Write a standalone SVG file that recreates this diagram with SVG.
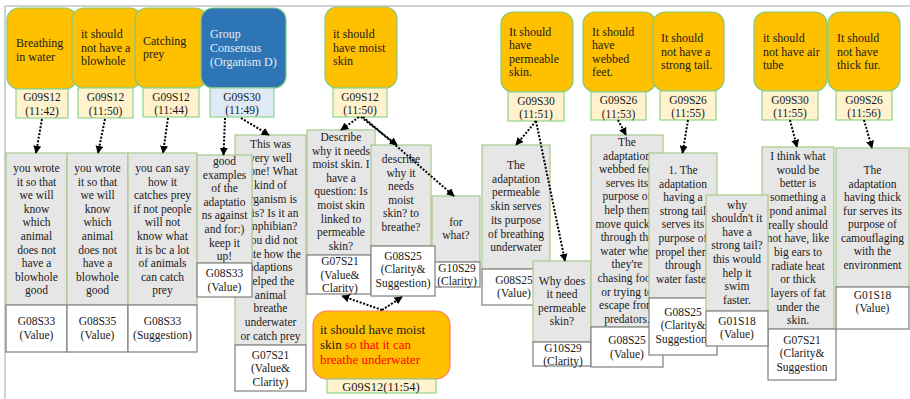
<svg xmlns="http://www.w3.org/2000/svg" width="910" height="399" viewBox="0 0 910 399">
<defs>
<marker id="ah" viewBox="0 0 10 10" refX="9" refY="5" markerWidth="4" markerHeight="4" orient="auto" markerUnits="strokeWidth">
<path d="M0,0 L10,5 L0,10 z" fill="#000"/>
</marker>
<style>
text{font-family:"Liberation Serif","Times New Roman",serif;fill:#1a1a1a;}
.t{font-size:12px;}
.c{font-size:11.5px;text-anchor:middle;}
.lb{font-size:11.5px;text-anchor:middle;}
.idea{fill:#FFC000;stroke:#7ECB7E;stroke-width:1.2;}
.cons{fill:#2E75B6;stroke:#7ECB7E;stroke-width:1.2;}
.lab{fill:#FFF2CC;stroke:#8FD48F;stroke-width:1.2;}
.labb{fill:#DEEBF7;stroke:#8FD48F;stroke-width:1.2;}
.cm{fill:#E7E6E6;stroke:#A9C98E;stroke-width:1.2;}
.cl{fill:#FFFFFF;stroke:#7F7F7F;stroke-width:1.2;}
.ar{stroke:#000;stroke-width:2;stroke-dasharray:2 1.6;fill:none;marker-end:url(#ah);}
</style>
</defs>
<rect width="910" height="399" fill="#FFFFFF"/>
<path d="M5,399 V6 H910" fill="none" stroke="#C4C4C4" stroke-width="1.5"/>

<!-- top idea nodes -->
<g id="n1">
<rect class="idea" x="7" y="8" width="70" height="81" rx="12"/>
<text class="t" x="16"><tspan x="16" y="47">Breathing</tspan><tspan x="16" y="60.5">in water</tspan></text>
<rect class="lab" x="16" y="89" width="52" height="29"/>
<text class="lb"><tspan x="42" y="101">G09S12</tspan><tspan x="42" y="114.5">(11:42)</tspan></text>
</g>
<g id="n2">
<rect class="idea" x="72" y="8" width="70" height="80" rx="12"/>
<text class="t"><tspan x="81" y="38">it should</tspan><tspan x="81" y="51.5">not have a</tspan><tspan x="81" y="65">blowhole</tspan></text>
<rect class="lab" x="78" y="88" width="55" height="30"/>
<text class="lb"><tspan x="105.5" y="101">G09S12</tspan><tspan x="105.5" y="114.5">(11:50)</tspan></text>
</g>
<g id="n3">
<rect class="idea" x="135" y="8" width="72" height="80" rx="12"/>
<text class="t"><tspan x="143" y="44.5">Catching</tspan><tspan x="143" y="58">prey</tspan></text>
<rect class="lab" x="143" y="88" width="56" height="29"/>
<text class="lb"><tspan x="171" y="100.5">G09S12</tspan><tspan x="171" y="114">(11:44)</tspan></text>
</g>
<g id="n4">
<rect class="cons" x="201" y="8" width="85" height="80" rx="12"/>
<text class="t" style="fill:#E3EAF4"><tspan x="210" y="38">Group</tspan><tspan x="210" y="52">Consensus</tspan><tspan x="210" y="65.5">(Organism D)</tspan></text>
<rect class="labb" x="210" y="88" width="64" height="29"/>
<text class="lb"><tspan x="242" y="100.5">G09S30</tspan><tspan x="242" y="114">(11:49)</tspan></text>
</g>
<g id="n5">
<rect class="idea" x="325" y="7" width="72" height="81" rx="12"/>
<text class="t"><tspan x="333" y="38">it should</tspan><tspan x="333" y="51.5">have moist</tspan><tspan x="333" y="65">skin</tspan></text>
<rect class="lab" x="333" y="88" width="54" height="29"/>
<text class="lb"><tspan x="360" y="100.5">G09S12</tspan><tspan x="360" y="114">(11:50)</tspan></text>
</g>
<g id="n6">
<rect class="idea" x="501" y="12" width="72" height="80" rx="12"/>
<text class="t"><tspan x="509" y="35.5">It should</tspan><tspan x="509" y="49">have</tspan><tspan x="509" y="62.5">permeable</tspan><tspan x="509" y="76">skin.</tspan></text>
<rect class="lab" x="508" y="92" width="56" height="29"/>
<text class="lb"><tspan x="536" y="104.5">G09S30</tspan><tspan x="536" y="118">(11:51)</tspan></text>
</g>
<g id="n7">
<rect class="idea" x="583" y="12" width="73" height="80" rx="12"/>
<text class="t"><tspan x="592" y="35.5">It should</tspan><tspan x="592" y="49">have</tspan><tspan x="592" y="62.5">webbed</tspan><tspan x="592" y="76">feet.</tspan></text>
<rect class="lab" x="591" y="92" width="55" height="28"/>
<text class="lb"><tspan x="618.5" y="104">G09S26</tspan><tspan x="618.5" y="117.5">(11:53)</tspan></text>
</g>
<g id="n8">
<rect class="idea" x="653" y="12" width="71" height="79" rx="12"/>
<text class="t"><tspan x="661" y="42">It should</tspan><tspan x="661" y="55.5">not have a</tspan><tspan x="661" y="69">strong tail.</tspan></text>
<rect class="lab" x="660" y="91" width="56" height="29"/>
<text class="lb"><tspan x="688" y="103.5">G09S26</tspan><tspan x="688" y="117">(11:55)</tspan></text>
</g>
<g id="n9">
<rect class="idea" x="754" y="12" width="73" height="79" rx="12"/>
<text class="t"><tspan x="763" y="42">it should</tspan><tspan x="763" y="55.5">not have air</tspan><tspan x="763" y="69">tube</tspan></text>
<rect class="lab" x="762" y="91" width="56" height="29"/>
<text class="lb"><tspan x="790" y="103.5">G09S30</tspan><tspan x="790" y="117">(11:55)</tspan></text>
</g>
<g id="n10">
<rect class="idea" x="828" y="12" width="72" height="79" rx="12"/>
<text class="t"><tspan x="837" y="42">It should</tspan><tspan x="837" y="55.5">not have</tspan><tspan x="837" y="69">thick fur.</tspan></text>
<rect class="lab" x="836" y="91" width="56" height="29"/>
<text class="lb"><tspan x="864" y="103.5">G09S26</tspan><tspan x="864" y="117">(11:56)</tspan></text>
</g>

<!-- comments -->
<g id="c1">
<rect class="cm" x="6" y="153" width="61" height="152"/>
<text class="c"><tspan x="36.5" y="172">you wrote</tspan><tspan x="36.5" y="185.6">it so that</tspan><tspan x="36.5" y="199.2">we will</tspan><tspan x="36.5" y="212.8">know</tspan><tspan x="36.5" y="226.4">which</tspan><tspan x="36.5" y="240">animal</tspan><tspan x="36.5" y="253.6">does not</tspan><tspan x="36.5" y="267.2">have a</tspan><tspan x="36.5" y="280.8">blowhole</tspan><tspan x="36.5" y="294.4">good</tspan></text>
<rect class="cl" x="6" y="305" width="61" height="47"/>
<text class="c"><tspan x="36.5" y="325">G08S33</tspan><tspan x="36.5" y="338.5">(Value)</tspan></text>
</g>
<g id="c2">
<rect class="cm" x="67" y="153" width="61" height="152"/>
<text class="c"><tspan x="97.5" y="172">you wrote</tspan><tspan x="97.5" y="185.6">it so that</tspan><tspan x="97.5" y="199.2">we will</tspan><tspan x="97.5" y="212.8">know</tspan><tspan x="97.5" y="226.4">which</tspan><tspan x="97.5" y="240">animal</tspan><tspan x="97.5" y="253.6">does not</tspan><tspan x="97.5" y="267.2">have a</tspan><tspan x="97.5" y="280.8">blowhole</tspan><tspan x="97.5" y="294.4">good</tspan></text>
<rect class="cl" x="67" y="305" width="61" height="47"/>
<text class="c"><tspan x="97.5" y="325">G08S35</tspan><tspan x="97.5" y="338.5">(Value)</tspan></text>
</g>
<g id="c3">
<rect class="cm" x="128" y="153" width="69" height="152"/>
<text class="c"><tspan x="162.5" y="172">you can say</tspan><tspan x="162.5" y="185.6">how it</tspan><tspan x="162.5" y="199.2">catches prey</tspan><tspan x="162.5" y="212.8">if not people</tspan><tspan x="162.5" y="226.4">will not</tspan><tspan x="162.5" y="240">know what</tspan><tspan x="162.5" y="253.6">it is bc a lot</tspan><tspan x="162.5" y="267.2">of animals</tspan><tspan x="162.5" y="280.8">can catch</tspan><tspan x="162.5" y="294.4">prey</tspan></text>
<rect class="cl" x="128" y="305" width="69" height="47"/>
<text class="c"><tspan x="162.5" y="325">G08S33</tspan><tspan x="162.5" y="338.5">(Suggestion)</tspan></text>
</g>
<g id="c5">
<rect class="cm" x="235" y="135" width="71" height="210"/>
<text class="c"><tspan x="270.5" y="148">This was</tspan><tspan x="270.5" y="161.7">very well</tspan><tspan x="270.5" y="175.4">done! What</tspan><tspan x="270.5" y="189.1">kind of</tspan><tspan x="270.5" y="202.8">organism is</tspan><tspan x="270.5" y="216.5">this? Is it an</tspan><tspan x="270.5" y="230.2">amphibian?</tspan><tspan x="270.5" y="243.9">You did not</tspan><tspan x="270.5" y="257.6">state how the</tspan><tspan x="270.5" y="271.3">adaptions</tspan><tspan x="270.5" y="285">helped the</tspan><tspan x="270.5" y="298.7">animal</tspan><tspan x="270.5" y="312.4">breathe</tspan><tspan x="270.5" y="326.1">underwater</tspan><tspan x="270.5" y="339.8">or catch prey</tspan></text>
<rect class="cl" x="235" y="345" width="71" height="46"/>
<text class="c"><tspan x="270.5" y="358.5">G07S21</tspan><tspan x="270.5" y="372">(Value&amp;</tspan><tspan x="270.5" y="385.5">Clarity)</tspan></text>
</g>
<g id="c4">
<rect class="cm" x="197" y="155" width="55" height="108"/>
<text class="c"><tspan x="224.5" y="165">good</tspan><tspan x="224.5" y="178.6">examples</tspan><tspan x="224.5" y="192.2">of the</tspan><tspan x="224.5" y="205.8">adaptatio</tspan><tspan x="224.5" y="219.4">ns against</tspan><tspan x="224.5" y="233">and for:)</tspan><tspan x="224.5" y="246.6">keep it</tspan><tspan x="224.5" y="260.2">up!</tspan></text>
<rect class="cl" x="197" y="263" width="55" height="34"/>
<text class="c"><tspan x="224.5" y="277">G08S33</tspan><tspan x="224.5" y="290.5">(Value)</tspan></text>
</g>
<g id="c6">
<rect class="cm" x="307" y="130" width="68" height="125"/>
<text class="c"><tspan x="341" y="141">Describe</tspan><tspan x="341" y="154.6">why it needs</tspan><tspan x="341" y="168.2">moist skin. I</tspan><tspan x="341" y="181.8">have a</tspan><tspan x="341" y="195.4">question: Is</tspan><tspan x="341" y="209">moist skin</tspan><tspan x="341" y="222.6">linked to</tspan><tspan x="341" y="236.2">permeable</tspan><tspan x="341" y="249.8">skin?</tspan></text>
<rect class="cl" x="307" y="255" width="64" height="39"/>
<text class="c"><tspan x="340" y="265">G07S21</tspan><tspan x="340" y="278.5">(Value&amp;</tspan><tspan x="340" y="292">Clarity)</tspan></text>
</g>
<g id="c8">
<rect class="cm" x="432" y="196" width="48" height="66"/>
<text class="c"><tspan x="456" y="226">for</tspan><tspan x="456" y="239">what?</tspan></text>
<rect class="cl" x="432" y="262" width="48" height="25"/>
<text class="c"><tspan x="457" y="272">G10S29</tspan><tspan x="457" y="284.5">(Clarity)</tspan></text>
</g>
<g id="c7">
<rect class="cm" x="371" y="145" width="60" height="101"/>
<text class="c"><tspan x="401" y="163">describe</tspan><tspan x="401" y="176.6">why it</tspan><tspan x="401" y="190.2">needs</tspan><tspan x="401" y="203.8">moist</tspan><tspan x="401" y="217.4">skin? to</tspan><tspan x="401" y="231">breathe?</tspan></text>
<rect class="cl" x="371" y="246" width="64" height="50"/>
<text class="c"><tspan x="403" y="259.5">G08S25</tspan><tspan x="403" y="273">(Clarity&amp;</tspan><tspan x="403" y="286.5">Suggestion)</tspan></text>
</g>
<g id="c9">
<rect class="cm" x="482" y="145" width="68" height="124"/>
<text class="c"><tspan x="516" y="169">The</tspan><tspan x="516" y="182.7">adaptation</tspan><tspan x="516" y="196.4">permeable</tspan><tspan x="516" y="210.1">skin serves</tspan><tspan x="516" y="223.8">its purpose</tspan><tspan x="516" y="237.5">of breathing</tspan><tspan x="516" y="251.2">underwater</tspan></text>
<rect class="cl" x="482" y="269" width="68" height="36"/>
<text class="c"><tspan x="514" y="283.5">G08S25</tspan><tspan x="514" y="297">(Value)</tspan></text>
</g>
<g id="c10">
<rect class="cm" x="533" y="261" width="58" height="81"/>
<text class="c"><tspan x="562" y="284.5">Why does</tspan><tspan x="562" y="298.1">it need</tspan><tspan x="562" y="311.7">permeable</tspan><tspan x="562" y="325.3">skin?</tspan></text>
<rect class="cl" x="533" y="342" width="58" height="24"/>
<text class="c"><tspan x="563" y="352">G10S29</tspan><tspan x="563" y="364.5">(Clarity)</tspan></text>
</g>
<g id="c11">
<rect class="cm" x="591" y="135" width="72" height="192"/>
<text class="c"><tspan x="627" y="146">The</tspan><tspan x="627" y="159.6">adaptation</tspan><tspan x="627" y="173.2">webbed feet</tspan><tspan x="627" y="186.8">serves its</tspan><tspan x="627" y="200.4">purpose of</tspan><tspan x="627" y="214">help them</tspan><tspan x="627" y="227.6">move quickly</tspan><tspan x="627" y="241.2">through the</tspan><tspan x="627" y="254.8">water when</tspan><tspan x="627" y="268.4">they're</tspan><tspan x="627" y="282">chasing food</tspan><tspan x="627" y="295.6">or trying to</tspan><tspan x="627" y="309.2">escape from</tspan><tspan x="627" y="322.8">predators.</tspan></text>
<rect class="cl" x="591" y="327" width="72" height="40"/>
<text class="c"><tspan x="627" y="344">G08S25</tspan><tspan x="627" y="357.5">(Value)</tspan></text>
</g>
<g id="c12">
<rect class="cm" x="649" y="153" width="68" height="145"/>
<text class="c"><tspan x="683" y="174">1. The</tspan><tspan x="683" y="187.6">adaptation</tspan><tspan x="683" y="201.2">having a</tspan><tspan x="683" y="214.8">strong tail</tspan><tspan x="683" y="228.4">serves its</tspan><tspan x="683" y="242">purpose of</tspan><tspan x="683" y="255.6">propel them</tspan><tspan x="683" y="269.2">through</tspan><tspan x="683" y="282.8">water faster</tspan></text>
<rect class="cl" x="649" y="298" width="68" height="57"/>
<text class="c"><tspan x="683" y="315.5">G08S25</tspan><tspan x="683" y="329">(Clarity&amp;</tspan><tspan x="683" y="342.5">Suggestion)</tspan></text>
</g>
<g id="c14">
<rect class="cm" x="762" y="147" width="72" height="182"/>
<text class="c"><tspan x="798" y="160">I think what</tspan><tspan x="798" y="173.7">would be</tspan><tspan x="798" y="187.4">better is</tspan><tspan x="798" y="201.1">something a</tspan><tspan x="798" y="214.8">pond animal</tspan><tspan x="798" y="228.5">really should</tspan><tspan x="798" y="242.2">not have, like</tspan><tspan x="798" y="255.9">big ears to</tspan><tspan x="798" y="269.6">radiate heat</tspan><tspan x="798" y="283.3">or thick</tspan><tspan x="798" y="297">layers of fat</tspan><tspan x="798" y="310.7">under the</tspan><tspan x="798" y="324.4">skin.</tspan></text>
<rect class="cl" x="768" y="329" width="68" height="51"/>
<text class="c"><tspan x="802" y="343.5">G07S21</tspan><tspan x="802" y="357">(Clarity&amp;</tspan><tspan x="802" y="370.5">Suggestion</tspan></text>
</g>
<g id="c13">
<rect class="cm" x="706" y="195" width="62" height="116"/>
<text class="c"><tspan x="737" y="208.5">why</tspan><tspan x="737" y="222.1">shouldn't it</tspan><tspan x="737" y="235.7">have a</tspan><tspan x="737" y="249.3">strong tail?</tspan><tspan x="737" y="262.9">this would</tspan><tspan x="737" y="276.5">help it</tspan><tspan x="737" y="290.1">swim</tspan><tspan x="737" y="303.7">faster.</tspan></text>
<rect class="cl" x="706" y="311" width="62" height="35"/>
<text class="c"><tspan x="737" y="324.5">G01S18</tspan><tspan x="737" y="338">(Value)</tspan></text>
</g>
<g id="c15">
<rect class="cm" x="836" y="148" width="73" height="139"/>
<text class="c"><tspan x="872.5" y="174">The</tspan><tspan x="872.5" y="187.5">adaptation</tspan><tspan x="872.5" y="201">having thick</tspan><tspan x="872.5" y="214.5">fur serves its</tspan><tspan x="872.5" y="228">purpose of</tspan><tspan x="872.5" y="241.5">camouflaging</tspan><tspan x="872.5" y="255">with the</tspan><tspan x="872.5" y="268.5">environment</tspan></text>
<rect class="cl" x="836" y="287" width="73" height="42"/>
<text class="c"><tspan x="872.5" y="298.5">G01S18</tspan><tspan x="872.5" y="312">(Value)</tspan></text>
</g>

<!-- revised idea -->
<g id="n11">
<rect x="313" y="311" width="137" height="68" rx="14" fill="#FFC000" stroke="#FF7A6E" stroke-width="1.2"/>
<text style="font-size:13px"><tspan x="320" y="333.5">it should have moist</tspan><tspan x="320" y="348.5">skin <tspan style="fill:#FF0000">so that it can</tspan></tspan><tspan x="320" y="363.5" style="fill:#FF0000">breathe underwater</tspan></text>
<rect class="lab" x="327" y="379" width="109" height="14"/>
<text style="font-size:12.5px;text-anchor:middle" x="381" y="391">G09S12(11:54)</text>
</g>

<!-- connectors -->
<g id="connectors">
<line class="ar" x1="42" y1="119" x2="36" y2="153"/>
<line class="ar" x1="105" y1="119" x2="98" y2="153"/>
<line class="ar" x1="168" y1="118" x2="163" y2="153"/>
<line class="ar" x1="225" y1="118" x2="223.5" y2="155"/>
<line class="ar" x1="241" y1="118" x2="269" y2="135"/>
<line class="ar" x1="359" y1="117" x2="341" y2="130"/>
<line class="ar" x1="361" y1="117" x2="397" y2="145"/>
<line class="ar" x1="363" y1="117" x2="454" y2="196"/>
<line class="ar" x1="382" y1="310" x2="342" y2="296"/>
<line class="ar" x1="382" y1="310" x2="402" y2="297"/>
<line class="ar" x1="536" y1="121" x2="516" y2="145"/>
<line class="ar" x1="536" y1="121" x2="565" y2="261"/>
<line class="ar" x1="618" y1="120" x2="626" y2="135"/>
<line class="ar" x1="688" y1="120" x2="682.5" y2="153"/>
<line class="ar" x1="790" y1="120" x2="797" y2="147"/>
<line class="ar" x1="864" y1="120" x2="872" y2="148"/>
</g>
</svg>
